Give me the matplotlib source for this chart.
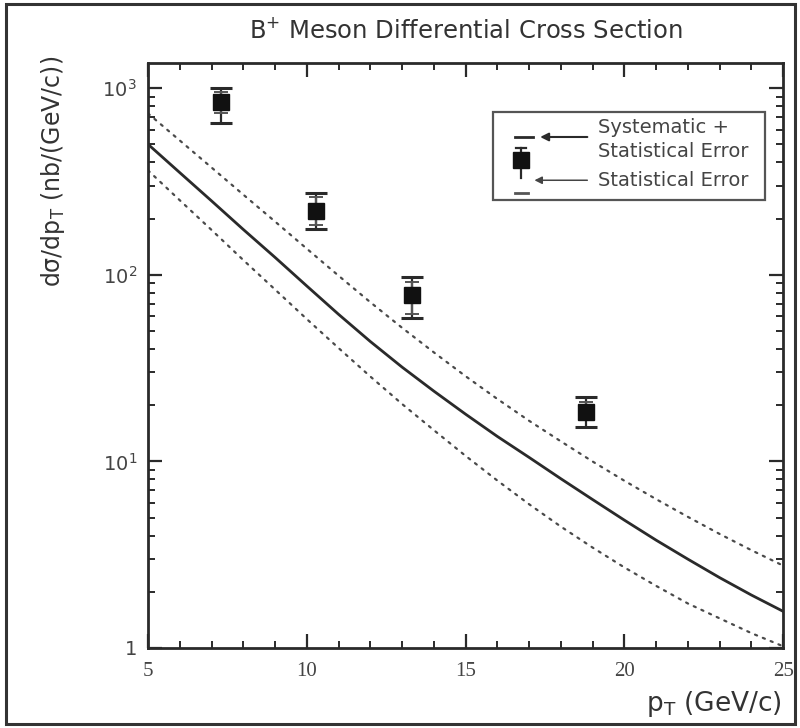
import matplotlib
matplotlib.use("Agg")
import matplotlib.pyplot as plt
from matplotlib.patches import Rectangle
import numpy as np

# Measured B+ cross section points
pt_data = [7.3, 10.3, 13.3, 18.8]
xsec = [840, 219, 78, 18.4]
stat_hi = [950, 260, 92, 20.8]
stat_lo = [733, 184, 62, 16.6]
tot_hi = [1000, 273, 97, 22.1]
tot_lo = [655, 176, 58.5, 15.3]

# Theory prediction (central and band edges)
pt_curve = [5, 6, 7, 8, 9, 10, 11, 12, 13, 14, 15, 16, 17, 18, 19, 20,
            21, 22, 23, 24, 25]
theory_central = [501, 353, 249, 175, 124, 87.1, 61.4, 43.9, 32.0, 23.8, 17.9,
                  13.6, 10.5, 8.07, 6.24, 4.84, 3.78, 2.99, 2.38, 1.92, 1.57]
theory_upper = [733, 525, 376, 269, 193, 138, 98.9, 71.3, 52.0, 38.4, 28.6,
                21.6, 16.5, 12.8, 9.98, 7.87, 6.27, 5.04, 4.08, 3.34, 2.76]
theory_lower = [363, 251, 174, 120, 83.4, 57.9, 40.5, 28.5, 20.3, 14.7, 10.7,
                7.89, 5.89, 4.47, 3.45, 2.70, 2.15, 1.73, 1.44, 1.20, 1.02]

x_ticks = [5, 10, 15, 20, 25]
y_ticks = [1, 10, 100, 1000]
y_ticklabels = ["1", r"10$^{1}$", r"10$^{2}$", r"10$^{3}$"]

sans = ["Liberation Sans", "DejaVu Sans"]
wide = ["DejaVu Sans"]
serif = ["Liberation Serif", "DejaVu Serif"]
plt.rcParams["font.family"] = sans
plt.rcParams["mathtext.fontset"] = "custom"
plt.rcParams["mathtext.rm"] = "DejaVu Sans"
plt.rcParams["mathtext.it"] = "DejaVu Sans"

fig = plt.figure(figsize=(8.0, 7.28), dpi=100)
ax = fig.add_axes([0.185, 0.110, 0.794, 0.803])

ink = "#2a2a2a"
dots = (0, (1.0, 2.8))
ax.plot(pt_curve, theory_central, color=ink, lw=2.0)
ax.plot(pt_curve, theory_upper, color="#4a4a4a", lw=1.6, linestyle=dots,
        dash_capstyle="round")
ax.plot(pt_curve, theory_lower, color="#4a4a4a", lw=1.6, linestyle=dots,
        dash_capstyle="round")

xsec_a = np.array(xsec)
tot_err = [xsec_a - np.array(tot_lo), np.array(tot_hi) - xsec_a]
stat_err = [xsec_a - np.array(stat_lo), np.array(stat_hi) - xsec_a]
ax.errorbar(pt_data, xsec, yerr=tot_err, fmt="none", ecolor=ink,
            elinewidth=1.6, capsize=8, capthick=2.2)
ax.errorbar(pt_data, xsec, yerr=stat_err, fmt="none", ecolor="#555555",
            elinewidth=1.6, capsize=5, capthick=1.4)
ax.plot(pt_data, xsec, "s", color="#111111", markersize=11)

ax.set_yscale("log")
ax.set_xlim(5, 25)
ax.set_ylim(1, 1360)
ax.set_xticks(x_ticks)
ax.set_xticks(np.arange(5, 26, 1), minor=True)
ax.set_yticks(y_ticks)
ax.set_yticklabels(y_ticklabels)
for lab in ax.get_xticklabels():
    lab.set_family(serif)
for lab in ax.get_yticklabels():
    lab.set_family(wide)
ax.tick_params(axis="both", which="both", direction="in", top=True, right=True,
               colors=ink, labelsize=15)
ax.tick_params(axis="x", which="major", labelcolor="#444444")
ax.tick_params(axis="y", which="major", labelsize=14, labelcolor="#444444")
ax.tick_params(axis="x", which="major", length=10, width=1.6, pad=10)
ax.tick_params(axis="y", which="major", length=10, width=1.6, pad=8)
ax.tick_params(which="minor", length=5, width=1.4)
for s in ax.spines.values():
    s.set_linewidth(2.0)
    s.set_color(ink)

ax.set_title(r"B$^{+}$ Meson Differential Cross Section", fontsize=17.5,
             family=wide, color="#333333", pad=18)
fig.text(0.066, 0.764, r"d$\sigma$/dp$_{\rm T}$ (nb/(GeV/c))", rotation=90,
         ha="center", va="center", fontsize=17, family=wide, color="#333333")
fig.text(0.892, 0.033, r"p$_{\rm T}$ (GeV/c)", ha="center", va="center",
         fontsize=19, family=wide, color="#333333")

# Key box drawn in axes coordinates
tr = ax.transAxes
ax.add_patch(Rectangle((0.543, 0.766), 0.429, 0.150, transform=tr, fill=False,
                       lw=1.6, ec="#555555"))
ax.plot([0.578, 0.606], [0.874, 0.874], transform=tr, color=ink, lw=2)
ax.annotate("", xy=(0.613, 0.874), xytext=(0.696, 0.874), xycoords=tr,
            arrowprops=dict(arrowstyle="-|>", color=ink, lw=1.5, mutation_scale=12))
ax.text(0.709, 0.890, "Systematic +", transform=tr, fontsize=14, family=wide,
        color="#444444", va="center")
ax.text(0.709, 0.849, "Statistical Error", transform=tr, fontsize=14,
        family=wide, color="#444444", va="center")
ax.plot([0.587, 0.587], [0.803, 0.855], transform=tr, color=ink, lw=1.6)
ax.plot([0.579, 0.595], [0.855, 0.855], transform=tr, color=ink, lw=1.6)
ax.plot([0.587], [0.834], "s", transform=tr, color="#111111", markersize=11)
ax.plot([0.578, 0.598], [0.779, 0.779], transform=tr, color="#555555", lw=2)
ax.annotate("", xy=(0.604, 0.800), xytext=(0.696, 0.800), xycoords=tr,
            arrowprops=dict(arrowstyle="-|>", color="#444444", lw=1.1, mutation_scale=11))
ax.text(0.709, 0.800, "Statistical Error", transform=tr, fontsize=14,
        family=wide, color="#444444", va="center")

# Outer frame
fig.patches.append(Rectangle((0.008, 0.006), 0.986, 0.988, transform=fig.transFigure,
                             fill=False, lw=2.2, ec="#333333"))

fig.savefig("out.png", dpi=100, facecolor="white")
